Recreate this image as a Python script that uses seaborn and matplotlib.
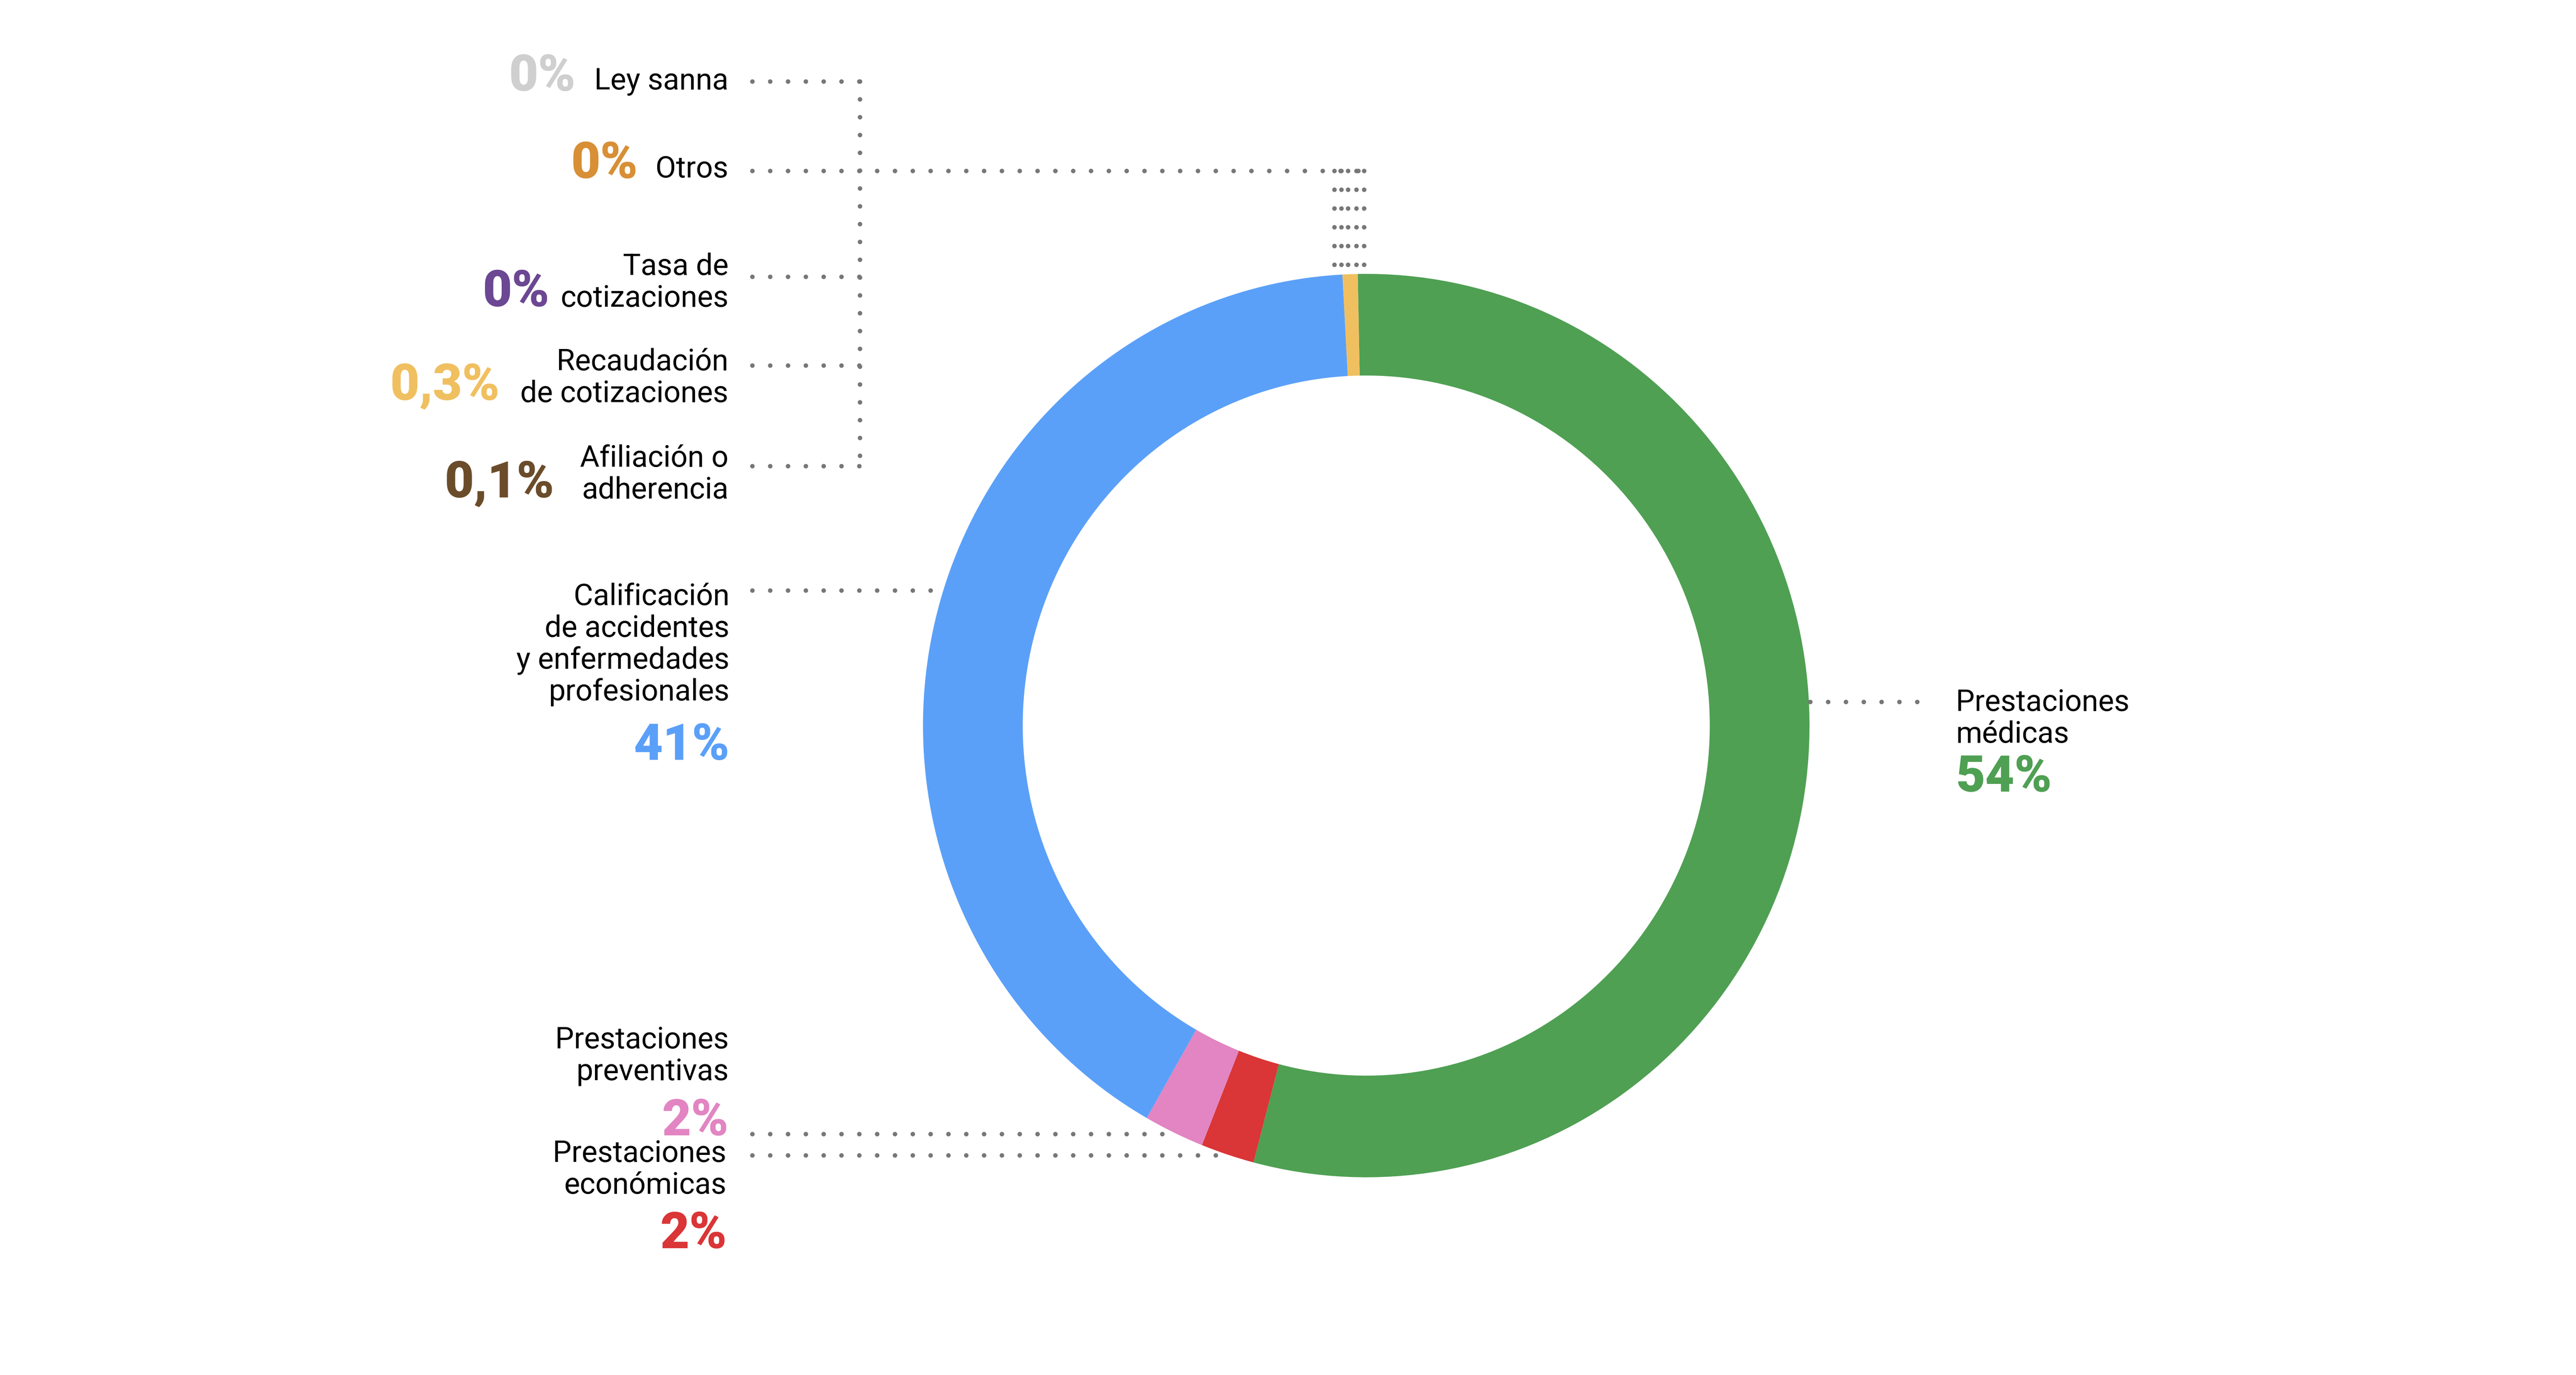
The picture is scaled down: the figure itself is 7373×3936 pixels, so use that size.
import numpy as np
import matplotlib
matplotlib.use("Agg")
import matplotlib.pyplot as plt
import seaborn as sns

# ---------------- data ----------------
categories = ["Prestaciones médicas", "Prestaciones económicas", "Prestaciones preventivas",
              "Calificación de accidentes y enfermedades profesionales",
              "Recaudación de cotizaciones", "Afiliación o adherencia",
              "Tasa de cotizaciones", "Otros", "Ley sanna"]
# share of the ring as drawn (the tiny slices are not visible in the ring)
shares = [54.4, 1.95, 2.2, 40.9, 0.55, 0.0, 0.0, 0.0, 0.0]
pct_labels = ["54%", "2%", "2%", "41%", "0,3%", "0,1%", "0%", "0%", "0%"]
label_lines = [["Prestaciones", "médicas"],
               ["Prestaciones", "económicas"],
               ["Prestaciones", "preventivas"],
               ["Calificación", "de accidentes", "y enfermedades", "profesionales"],
               ["Recaudación", "de cotizaciones"],
               ["Afiliación o", "adherencia"],
               ["Tasa de", "cotizaciones"],
               ["Otros"],
               ["Ley sanna"]]
colors = ["#4fa053", "#da3537", "#e285c2", "#5ba0f8", "#f0c060",
          "#6b4c2a", "#6c4793", "#d88f35", "#cfcfcf"]

# ---------------- layout (pixels) ----------------
W, H, DPI = 7374, 3937, 100
CX, CY = 3910.5, 2078.0          # ring centre
RX, RY = 1268.7, 1293.0          # outer radii
RING_W = 0.225
DOT = "#777777"
LINE_GAP = 91

sns.set_style("white")
plt.rcParams["font.family"] = ["Roboto", "DejaVu Sans"]

fig = plt.figure(figsize=(W / DPI, H / DPI), dpi=DPI)
fig.patch.set_facecolor("white")

# pie axes: 1 data unit = ring radius
ax_pie = fig.add_axes([0, 0, 1, 1])
ax_pie.pie(shares, colors=sns.color_palette(colors), startangle=91.1, counterclock=False,
           radius=1, wedgeprops=dict(width=RING_W, linewidth=0))
ax_pie.set_aspect("auto")
ax_pie.set_xlim(-CX / RX, (W - CX) / RX)
ax_pie.set_ylim((CY - H) / RY, CY / RY)
ax_pie.axis("off")

# overlay axes in pixel coordinates (y down) for labels and leaders
ax = fig.add_axes([0, 0, 1, 1], facecolor="none")
ax.set_xlim(0, W)
ax.set_ylim(H, 0)
ax.axis("off")


def ring_edge(y, side):
    return CX + side * RX * np.sqrt(max(0.0, 1 - ((y - CY) / RY) ** 2))


def dotted(xs, ys, step=51, size=13):
    ax.plot(xs, ys, color=DOT, lw=size * 72 / DPI,
            linestyle=(0, (0.001, step / size)), dash_capstyle="round")


LBL = 61.5
PCT = 104

# per category: (text x, ha, first baseline, pct x, pct baseline, leader y)
layout = [
    (5598, "left", 2035, 5598, 2266, 2010),
    (2079, "right", 3326, 2081, 3573, 3308),
    (2086, "right", 3001, 2086, 3250, 3247),
    (2088, "right", 1732, 2089, 2175, 1691),
    (2085, "right", 1060, 1431, 1144, 1047),
    (2085, "right", 1336, 1587, 1423, 1335),
    (2085, "right", 787, 1573, 877, 793),
    (2085, "right", 508, 1826, 510, 490),
    (2085, "right", 256, 1648, 260, 234),
]

for lines, pct, col, (tx, ha, b0, px, pb, ly) in zip(label_lines, pct_labels, colors, layout):
    for i, s in enumerate(lines):
        ax.text(tx, b0 + i * LINE_GAP, s, fontsize=LBL, ha=ha, va="baseline", color="black")
    ax.text(px, pb, pct, fontsize=PCT, fontweight="heavy", ha=ha, va="baseline", color=col)

# leaders: big slices
dotted([ring_edge(2010, 1) + 4, 5530], [2010, 2010])
dotted([2153, ring_edge(1691, -1) - 10], [1691, 1691])
dotted([2153, ring_edge(3247, -1) - 6], [3247, 3247])
dotted([2153, ring_edge(3308, -1) - 6], [3308, 3308])

# leaders: tiny slices, bundled on the left
for ly in [234, 793, 1047, 1335]:
    dotted([2153, 2461], [ly, ly])
dotted([2461, 2461], [234, 1335])
dotted([2153, 3904], [490, 490])
for vx in [3819, 3839, 3858, 3882, 3904]:
    dotted([vx, vx], [490, 775], step=53.7)

fig.savefig("out.png", dpi=DPI, facecolor="white")
